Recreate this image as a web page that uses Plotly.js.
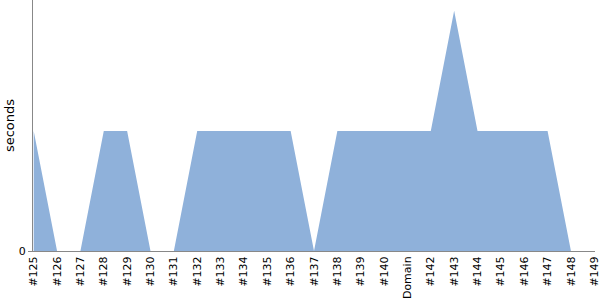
<!DOCTYPE html>
<html><head><meta charset="utf-8">
<script src="https://cdn.plot.ly/plotly-3.0.1.min.js"></script>
<style>body{margin:0;}#c{width:600px;height:300px;}</style>
</head><body><div id="c"></div>
<script>
const categories = ["#125","#126","#127","#128","#129","#130","#131","#132","#133","#134","#135","#136","#137","#138","#139","#140","Domain","#142","#143","#144","#145","#146","#147","#148","#149"];
const seconds = [1,0,0,1,1,0,0,1,1,1,1,1,0,1,1,1,1,1,2,1,1,1,1,0,0];

Plotly.newPlot('c', [{
  x: categories, y: seconds, type: 'scatter', mode: 'lines',
  fill: 'tozeroy', fillcolor: '#8fb1da', line: {width: 0, color: '#8fb1da'},
  hoverinfo: 'none'
}], {
  width: 600, height: 300,
  margin: {l: 33, r: 5, t: 0, b: 49},
  paper_bgcolor: '#fff', plot_bgcolor: '#fff',
  font: {family: 'DejaVu Sans', size: 11, color: '#000'},
  showlegend: false,
  xaxis: {type: 'category', range: [-0.03, 24.03], tickangle: -90, showgrid: false,
    showline: true, linecolor: '#888', linewidth: 1, ticks: '', ticklen: 0, zeroline: false,
    tickfont: {family: 'DejaVu Sans', size: 11}},
  yaxis: {range: [0, 2.09], tickvals: [0], ticktext: ['0'], showgrid: false, zeroline: false,
    showline: true, linecolor: '#888', linewidth: 1, ticks: 'outside', ticklen: 4, tickcolor: '#888',
    tickfont: {family: 'DejaVu Sans', size: 11},
    title: {text: 'seconds', font: {family: 'DejaVu Sans', size: 13}, standoff: 1}}
}, {staticPlot: true});
</script></body></html>
